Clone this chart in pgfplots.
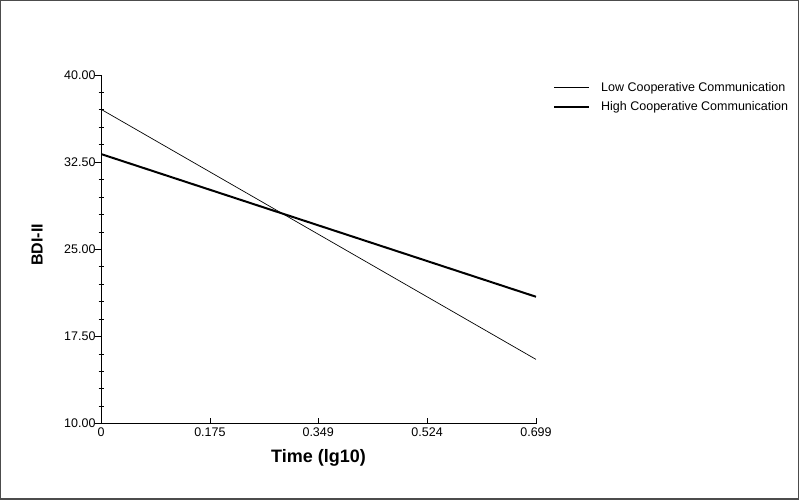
\documentclass[border=0pt]{standalone}
\usepackage{fontspec}
\setmainfont{Liberation Sans}
\usepackage{pgfplots}
\pgfplotsset{compat=1.18}
\begin{document}
\begin{tikzpicture}[x=1bp,y=1bp]
\useasboundingbox (0,0) rectangle (800,500);
\draw[line width=1.5bp, black!70] (0.75,0.75) rectangle (798.25,499.25);
\begin{axis}[
  at={(101bp,76.3bp)}, anchor=south west,
  width=435bp, height=348.7bp, scale only axis,
  xmin=0, xmax=0.699, ymin=10, ymax=40,
  axis lines=left,
  axis line style={-, line width=0.9bp},
  xtick={0,0.175,0.349,0.524,0.699},
  xticklabels={0,0.175,0.349,0.524,0.699},
  ytick={10,17.5,25,32.5,40},
  minor x tick num=4, minor y tick num=4,
  tick align=inside,
  major tick length=6bp, minor tick length=5bp,
  every tick/.style={black, line width=0.8bp},
  major y tick style={xshift=-6bp},
  minor y tick style={xshift=-2.5bp},
  /pgf/number format/assume math mode=true,
  y tick label style={/pgf/number format/fixed, /pgf/number format/fixed zerofill,
    /pgf/number format/precision=2, xshift=-2bp},
  tick label style={font=\fontsize{12.5bp}{15bp}\selectfont},
  xticklabel style={yshift=-1bp},
  xlabel={\textbf{Time (lg10)}},
  ylabel={\textbf{BDI-II}},
  xlabel style={font=\fontsize{18bp}{21bp}\selectfont,
    at={(axis description cs:0.5,0)}, anchor=center, yshift=-34bp},
  ylabel style={font=\fontsize{16bp}{19bp}\selectfont,
    at={(axis description cs:-0.147,0.513)}, anchor=center},
  legend style={at={(1,1)}, anchor=north west, xshift=14bp, yshift=-3bp,
    draw=none, fill=none, font=\fontsize{12.5bp}{15bp}\selectfont,
    row sep=5bp, column sep=9bp},
  legend cell align=left,
  legend image code/.code={\draw[#1] (0bp,0bp) -- (35bp,0bp);},
]
\addplot[black, line width=0.7bp] coordinates {(0,37.05) (0.699,15.53)};
\addlegendentry{Low Cooperative Communication}
\addplot[black, line width=2bp] coordinates {(0,33.2) (0.699,20.92)};
\addlegendentry{High Cooperative Communication}
\end{axis}
\end{tikzpicture}
\end{document}
